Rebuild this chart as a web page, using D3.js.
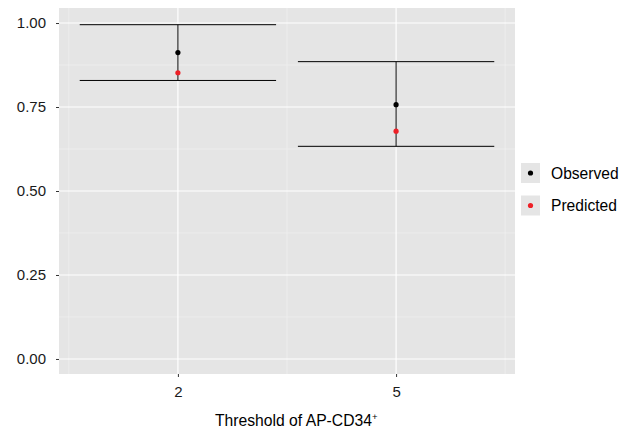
<!DOCTYPE html>
<html><head><meta charset="utf-8">
<script src="https://cdn.jsdelivr.net/npm/d3@7"></script>
<style>body{margin:0;background:#fff}svg{display:block}text{font-family:"Liberation Sans",Arial,sans-serif}</style>
</head><body>
<svg id="c" width="630" height="429"></svg>
<script>
const thresholds = [2, 5];
const observed = [0.912, 0.757];
const predicted = [0.852, 0.678];
const lower = [0.829, 0.633];
const upper = [0.995, 0.885];
const yTicks = [0, 0.25, 0.5, 0.75, 1];
const yMinor = [0.125, 0.375, 0.625, 0.875];
const xMinor = [0.5, 3.5, 6.5];
const seriesNames = ["Observed", "Predicted"];
const seriesColors = ["#000000", "#EE2027"];
const halfWidth = 1.35;

const svg = d3.select("#c");
const P = {l: 59, r: 515, t: 8, b: 374};
const x = d3.scaleLinear().domain([0.365, 6.635]).range([P.l, P.r]);
const y = d3.scaleLinear().domain([-0.0447, 1.0447]).range([P.b, P.t]);

svg.append("rect").attr("x", P.l).attr("y", P.t).attr("width", P.r - P.l).attr("height", P.b - P.t).attr("fill", "#E5E5E5");
const g = svg.append("g");
yMinor.forEach(v => g.append("line").attr("x1", P.l).attr("x2", P.r).attr("y1", y(v)).attr("y2", y(v)).attr("stroke", "#F2F2F2").attr("stroke-width", 0.6));
xMinor.forEach(v => g.append("line").attr("y1", P.t).attr("y2", P.b).attr("x1", x(v)).attr("x2", x(v)).attr("stroke", "#F2F2F2").attr("stroke-width", 0.6));
yTicks.forEach(v => g.append("line").attr("x1", P.l).attr("x2", P.r).attr("y1", y(v)).attr("y2", y(v)).attr("stroke", "#fff").attr("stroke-width", 1.2));
thresholds.forEach(v => g.append("line").attr("y1", P.t).attr("y2", P.b).attr("x1", x(v)).attr("x2", x(v)).attr("stroke", "#fff").attr("stroke-width", 1.2));

// axes
const yAxis = d3.axisLeft(y).tickValues(yTicks).tickFormat(d3.format(".2f")).tickSize(3).tickPadding(10);
const ya = svg.append("g").attr("transform", `translate(${P.l},0)`).call(yAxis);
const xAxis = d3.axisBottom(x).tickValues(thresholds).tickFormat(d3.format("d")).tickSize(3).tickPadding(9);
const xa = svg.append("g").attr("transform", `translate(0,${P.b})`).call(xAxis);
[ya, xa].forEach(a => {
  a.select(".domain").remove();
  a.selectAll(".tick line").attr("stroke", "#333");
  a.selectAll(".tick text").attr("fill", "#1a1a1a").style("font-size", "15px");
});

// error bars
thresholds.forEach((t, i) => {
  g.append("line").attr("x1", x(t - halfWidth)).attr("x2", x(t + halfWidth)).attr("y1", y(upper[i])).attr("y2", y(upper[i])).attr("stroke", "#000").attr("stroke-width", 1);
  g.append("line").attr("x1", x(t - halfWidth)).attr("x2", x(t + halfWidth)).attr("y1", y(lower[i])).attr("y2", y(lower[i])).attr("stroke", "#000").attr("stroke-width", 1);
  g.append("line").attr("x1", x(t)).attr("x2", x(t)).attr("y1", y(lower[i])).attr("y2", y(upper[i])).attr("stroke", "#000").attr("stroke-width", 1);
});
[observed, predicted].forEach((vals, s) => {
  thresholds.forEach((t, i) => {
    g.append("circle").attr("cx", x(t)).attr("cy", y(vals[i])).attr("r", 2.6).attr("fill", seriesColors[s]);
  });
});

// x title
const title = svg.append("text").attr("x", 215).attr("y", 426).attr("fill", "#000").style("font-size", "15.7px");
title.append("tspan").text("Threshold of AP-CD34");
title.append("tspan").text("+").attr("dy", -6).style("font-size", "9.5px");

// legend
const lg = svg.append("g");
const legY = [173, 205.5];
seriesNames.forEach((n, i) => {
  lg.append("rect").attr("x", 521).attr("y", legY[i] - 10).attr("width", 19).attr("height", 20).attr("fill", "#E5E5E5");
  lg.append("circle").attr("cx", 530.5).attr("cy", legY[i]).attr("r", 2.6).attr("fill", seriesColors[i]);
  lg.append("text").attr("x", 551).attr("y", legY[i] + 5.6).attr("fill", "#000").style("font-size", "15.6px").text(n);
});
</script>
</body></html>
